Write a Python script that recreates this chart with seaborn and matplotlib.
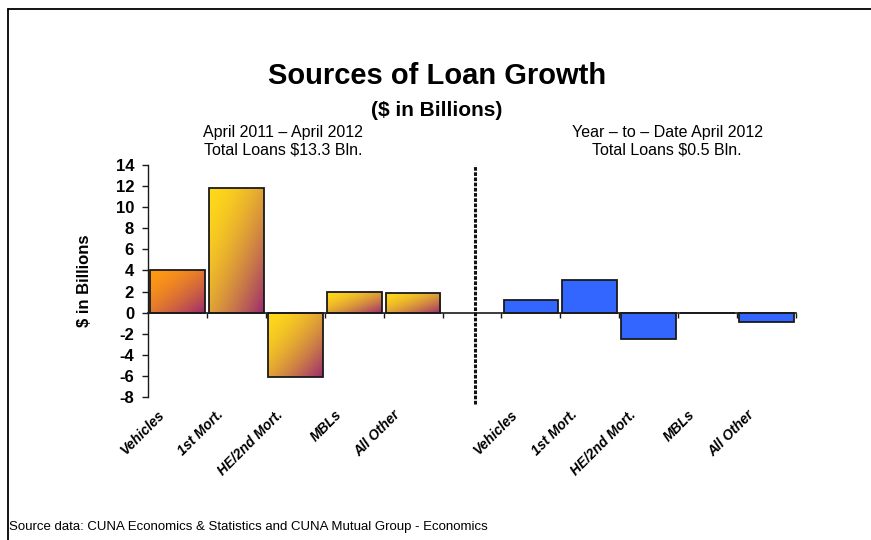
import numpy as np
import pandas as pd
import matplotlib
matplotlib.use("Agg")
import matplotlib.pyplot as plt
import matplotlib.colors as mcolors
from matplotlib.transforms import ScaledTranslation
from matplotlib.lines import Line2D
import seaborn as sns

# ---- data ----
categories = ["Vehicles", "1st Mort.", "HE/2nd Mort.", "MBLs", "All Other"]
yoy_values = [4.0, 11.8, -6.1, 2.0, 1.9]      # April 2011 - April 2012
ytd_values = [1.2, 3.1, -2.5, 0.0, -0.9]      # Year-to-date April 2012
yticks = list(range(-8, 15, 2))

title = "Sources of Loan Growth"
subtitle = "($ in Billions)"
left_head = "April 2011 \u2013 April 2012\nTotal Loans $13.3 Bln."
right_head = "Year \u2013 to \u2013 Date April 2012\nTotal Loans $0.5 Bln."
ylabel = "$ in Billions"
source = "Source data: CUNA Economics & Statistics and CUNA Mutual Group - Economics"

# ---- table ----
left_keys = ["L_" + c for c in categories]
right_keys = ["R_" + c for c in categories]
order = left_keys + ["gap"] + right_keys
gap_idx = order.index("gap")
df = pd.DataFrame({
    "key": left_keys + right_keys,
    "value": yoy_values + ytd_values,
    "panel": ["left"] * len(categories) + ["right"] * len(categories),
})
tick_names = categories + [""] + categories

sns.set_theme(style="white")
plt.rcParams["font.family"] = ["Liberation Sans", "DejaVu Sans"]
plt.rcParams["text.color"] = "black"
plt.rcParams["axes.labelcolor"] = "black"
plt.rcParams["xtick.color"] = "black"
plt.rcParams["ytick.color"] = "black"

W, H = 871, 540
fig = plt.figure(figsize=(W / 100, H / 100), dpi=100)
ax = fig.add_axes([148 / W, 1 - 397 / H, 648 / W, 232 / H])

sns.barplot(data=df, x="key", y="value", hue="panel", order=order,
            palette={"left": "#F0B030", "right": "#3366FF"}, saturation=1,
            dodge=False, width=0.93, edgecolor="#1a1a1a", linewidth=1.3,
            legend=False, ax=ax, zorder=3)

ax.set_xlim(-0.5, len(order) - 0.5)
ax.set_ylim(-8, 14)

# gradient fill for left-panel bars
c_end = np.array(mcolors.to_rgb("#9C2A70"))
for p in list(ax.patches):
    x0 = p.get_x()
    w = p.get_width()
    if x0 + w / 2 > gap_idx:
        continue
    y0 = p.get_y()
    h = p.get_height()
    cx = x0 + w / 2
    first = abs(cx - 0) < 0.5
    c_start = np.array(mcolors.to_rgb("#FF9912" if first else "#FFD81A"))
    n = 100
    u = np.linspace(0, 1, n)[None, :]
    v = np.linspace(0, 1, n)[:, None]
    t = ((u + v) / 2) ** 1.7
    img = c_start[None, None, :] * (1 - t[..., None]) + c_end[None, None, :] * t[..., None]
    ylo, yhi = min(y0, y0 + h), max(y0, y0 + h)
    im = ax.imshow(img, extent=[x0, x0 + w, ylo, yhi], origin="upper",
                   aspect="auto", zorder=2.5, interpolation="bilinear")
    im.set_clip_path(p)
    p.set_facecolor("none")
    p.set_zorder(3)

ax.set_xlim(-0.5, len(order) - 0.5)
ax.set_ylim(-8, 14)

# axes styling
for s in ["top", "right"]:
    ax.spines[s].set_visible(False)
ax.spines["left"].set_color("#1a1a1a")
ax.spines["left"].set_linewidth(1.0)
ax.spines["bottom"].set_position(("data", 0))
ax.spines["bottom"].set_color("#1a1a1a")
ax.spines["bottom"].set_linewidth(1.2)
ax.spines["bottom"].set_zorder(4)

ax.set_yticks(yticks)
ax.set_yticklabels([str(v) for v in yticks], fontsize=12, fontweight="bold")
ax.tick_params(axis="y", direction="out", length=4, width=1, color="#1a1a1a",
               left=True, pad=6)
ax.set_ylabel(ylabel, fontsize=12, fontweight="bold", labelpad=17)

ax.set_xticks(range(len(order)))
ax.set_xticks([i + 0.5 for i in range(len(order))], minor=True)
ax.set_xticklabels(tick_names, rotation=45, ha="right", rotation_mode="anchor",
                   va="center", fontsize=10, fontweight="bold", fontstyle="italic")
ax.tick_params(axis="x", which="major", length=0, pad=72, bottom=True)
ax.tick_params(axis="x", which="minor", direction="out", length=3.5, width=1,
               color="#1a1a1a", bottom=True)
ax.set_xlabel("")
off = ScaledTranslation(-0.15, 0, fig.dpi_scale_trans)
for lab in ax.get_xticklabels():
    lab.set_transform(lab.get_transform() + off)

# divider between panels
ax.axvline(gap_idx + 0.05, ymin=-0.03, ymax=1.0, color="#111111", lw=2.2,
           linestyle=(0, (1.2, 0.5)), clip_on=False, zorder=5)

# titles and texts
fig.text(437 / W, 1 - 76 / H, title, ha="center", va="center",
         fontsize=21, fontweight="bold")
fig.text(437 / W, 1 - 110 / H, subtitle, ha="center", va="center",
         fontsize=15, fontweight="bold")
fig.text(283 / W, 1 - 141 / H, left_head, ha="center", va="center",
         fontsize=11.5, linespacing=1.2)
fig.text(667 / W, 1 - 141 / H, right_head, ha="center", va="center",
         fontsize=11.5, linespacing=1.2)
fig.text(9 / W, 1 - 527 / H, source, ha="left", va="center", fontsize=9.5)

# outer frame (left and top edges visible)
fig.add_artist(Line2D([8 / W, 8 / W], [0, 1 - 9 / H], transform=fig.transFigure,
                      color="black", lw=1.3))
fig.add_artist(Line2D([8 / W, 1], [1 - 9 / H, 1 - 9 / H], transform=fig.transFigure,
                      color="black", lw=1.3))

fig.savefig("out.png", dpi=100)
